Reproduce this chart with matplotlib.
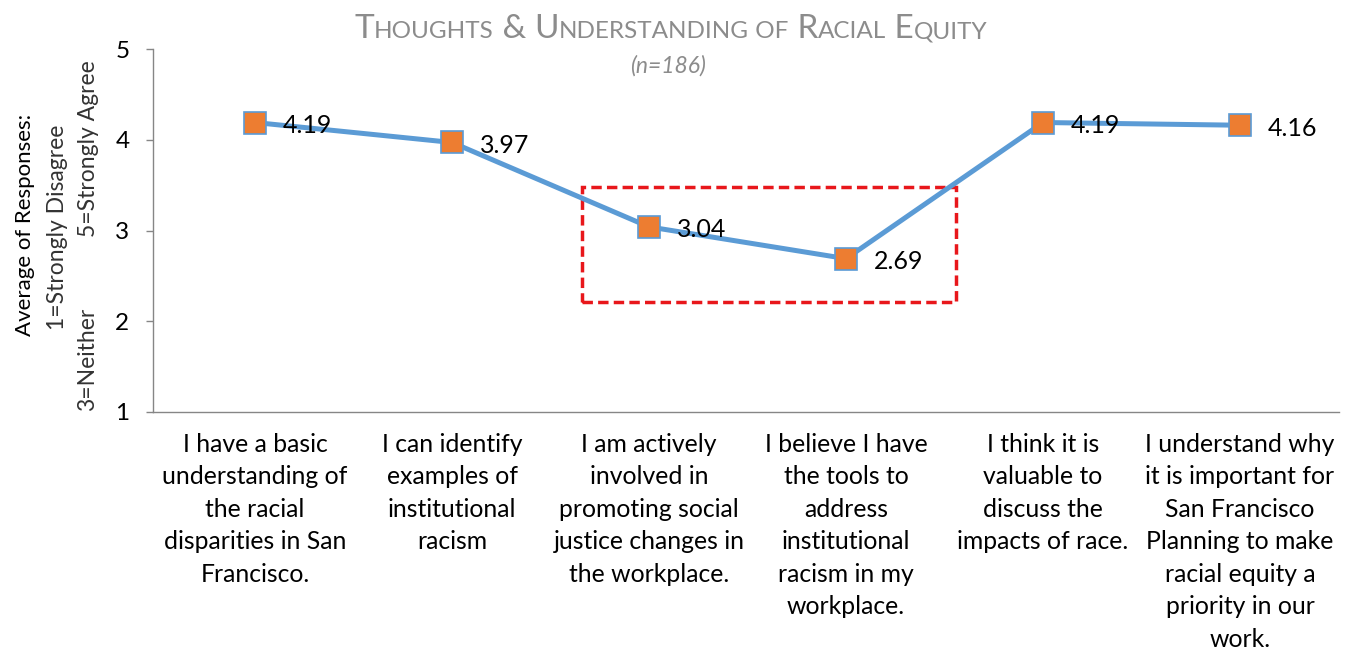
import matplotlib
matplotlib.use("Agg")
import matplotlib.pyplot as plt
from matplotlib.patches import Rectangle
from matplotlib.offsetbox import TextArea, HPacker, AnchoredOffsetbox

plt.rcParams['font.family'] = ['Lato', 'DejaVu Sans']

categories = [
    "I have a basic\nunderstanding of\nthe racial\ndisparities in San\nFrancisco.",
    "I can identify\nexamples of\ninstitutional\nracism",
    "I am actively\ninvolved in\npromoting social\njustice changes in\nthe workplace.",
    "I believe I have\nthe tools to\naddress\ninstitutional\nracism in my\nworkplace.",
    "I think it is\nvaluable to\ndiscuss the\nimpacts of race.",
    "I understand why\nit is important for\nSan Francisco\nPlanning to make\nracial equity a\npriority in our\nwork.",
]
values = [4.19, 3.97, 3.04, 2.69, 4.19, 4.16]
value_labels = ["4.19", "3.97", "3.04", "2.69", "4.19", "4.16"]
yticks = [1, 2, 3, 4, 5]

fig = plt.figure(figsize=(13.48, 6.53), dpi=100)
W, H = 1348, 653
ax = fig.add_axes([153 / W, 1 - 412 / H, (1338.5 - 153) / W, (412 - 49) / H])

x = list(range(len(values)))
ax.plot(x, values, color='#5B9BD5', lw=3.6, marker='s', markersize=15.5,
        markerfacecolor='#ED7D31', markeredgecolor='#5B9BD5', markeredgewidth=1.2,
        zorder=3, solid_capstyle='round')
for xi, v, lab in zip(x, values, value_labels):
    ax.annotate(lab, (xi, v), xytext=(20, -2), textcoords='offset points',
                ha='left', va='center', fontsize=18, color='black', zorder=4)

ax.set_xlim(-0.518, len(values) - 0.5)
ax.set_ylim(1, 5)
ax.set_yticks(yticks)
ax.set_yticklabels([str(t) for t in yticks], fontsize=17.5)
ax.tick_params(axis='y', length=5, width=1, color='#868686', pad=12)
ax.set_xticks(x)
ax.set_xticklabels(categories, fontsize=17.8, linespacing=1.5, va='top')
ax.tick_params(axis='x', length=0, pad=15)
for s in ['top', 'right']:
    ax.spines[s].set_visible(False)
for s in ['left', 'bottom']:
    ax.spines[s].set_color('#868686')
    ax.spines[s].set_linewidth(1)

# highlight box
ax.add_patch(Rectangle((1.66, 2.21), 3.56 - 1.66, 3.48 - 2.21, fill=False,
                       edgecolor='#E8171B', lw=2.5, linestyle=(0, (3, 1.5)),
                       zorder=2, clip_on=False))

# title in small caps
title_parts = [("T", 24), ("HOUGHTS", 17.5), (" & ", 24), ("U", 24), ("NDERSTANDING", 17.5),
               (" OF", 17.5), (" R", 24), ("ACIAL", 17.5), (" E", 24), ("QUITY", 17.5)]
areas = [TextArea(t, textprops=dict(fontsize=s, color='#8C8C8C'))
         for t, s in title_parts]
pack = HPacker(children=areas, align='baseline', pad=0, sep=0)
ab = AnchoredOffsetbox(loc='center', child=pack, frameon=False,
                       bbox_to_anchor=(671 / W, 1 - 29 / H), bbox_transform=fig.transFigure,
                       borderpad=0, pad=0)
fig.add_artist(ab)
fig.text(668 / W, 1 - 66 / H, "(n=186)", ha='center', va='center', fontsize=16.5,
         style='italic', color='#8C8C8C')

# y-axis label lines
fig.text(25 / W, 1 - 225 / H, "Average of Responses:", rotation=90, ha='center',
         va='center', fontsize=16, color='black')
fig.text(57 / W, 1 - 227 / H, "1=Strongly Disagree", rotation=90, ha='center',
         va='center', fontsize=16.5, color='#333333')
fig.text(88 / W, 1 - 411 / H, "3=Neither", rotation=90, ha='center',
         va='bottom', fontsize=16.5, color='#333333')
fig.text(88 / W, 1 - 60 / H, "5=Strongly Agree", rotation=90, ha='center',
         va='top', fontsize=16.5, color='#333333')

fig.savefig("out.png", dpi=100)
